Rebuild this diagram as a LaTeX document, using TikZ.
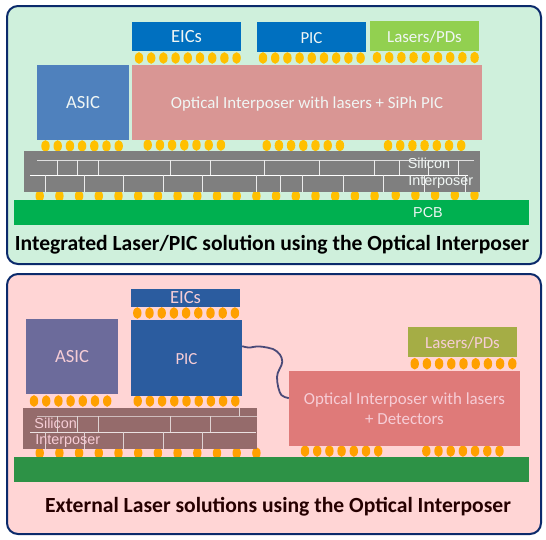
\documentclass[tikz,border=0pt]{standalone}
\usepackage{fontspec}
\setmainfont{Carlito}
\newfontfamily\labelfont{Liberation Sans}
\definecolor{panelgreen}{HTML}{CFF0DC}
\definecolor{panelpink}{HTML}{FFD5D5}
\definecolor{navy}{HTML}{0B2A6B}
\definecolor{bluea}{HTML}{0070C0}
\definecolor{blueb}{HTML}{2B5C9F}
\definecolor{asica}{HTML}{4F81BD}
\definecolor{asicb}{HTML}{6C6B9B}
\definecolor{lasera}{HTML}{92D050}
\definecolor{laserb}{HTML}{A5AD45}
\definecolor{opta}{HTML}{D99694}
\definecolor{optb}{HTML}{DF7A79}
\definecolor{sia}{HTML}{7F7F7F}
\definecolor{sib}{HTML}{956B6B}
\definecolor{pcba}{HTML}{00B050}
\definecolor{pcbb}{HTML}{2D9246}
\definecolor{bumpa}{HTML}{FFC000}
\definecolor{bumpb}{HTML}{FFA000}
\definecolor{fibre}{HTML}{4A4A78}
\definecolor{inka}{HTML}{F0F6F4}
\definecolor{inkb}{HTML}{F6CDD6}
\tikzset{
  panel/.style={draw=navy,line width=2pt,rounded corners=11pt},
  chip/.style={inner sep=0pt,text height=14.5pt,text depth=2pt,font=\fontsize{16.9}{20.8}\selectfont},
  big/.style={font=\fontsize{18.6}{22}\selectfont},
  chipa/.style={chip,text=inka},
  chipb/.style={chip,text=inkb,align=center},
  title/.style={inner sep=0pt,font=\fontsize{21.6}{26}\selectfont\bfseries},
  small/.style={inner sep=0pt,font=\labelfont\fontsize{14.4}{17}\selectfont},
  brick/.style={line width=0.8pt}
}
\begin{document}
\begin{tikzpicture}[x=1pt,y=-1pt]
\useasboundingbox (0,0) rectangle (546,539);
\draw[panel,fill=panelgreen] (7,6) rectangle (541,264);
\draw[panel,fill=panelpink] (7,274) rectangle (541,534);
\foreach \i in {0,...,8} {\fill[bumpa] (139+12.2*\i,58) ellipse (4.2pt and 5.8pt); \fill[bumpa] (263+12.2*\i,58) ellipse (4.2pt and 5.8pt); \fill[bumpa] (377+12.2*\i,57.5) ellipse (4.2pt and 5.8pt);}
\foreach \i in {0,...,6} {\fill[bumpa] (45.5+12.2*\i,146) ellipse (4.2pt and 5.8pt); \fill[bumpa] (147.7+12.2*\i,145) ellipse (4.2pt and 5.8pt); \fill[bumpa] (266.7+12.2*\i,145.5) ellipse (4.2pt and 5.8pt); \fill[bumpa] (388+12.2*\i,145.5) ellipse (4.2pt and 5.8pt);}
\foreach \i in {0,...,17} \fill[bumpa] (39.7+19.7*\i,196) ellipse (4.2pt and 5.8pt);
\foreach \i in {0,...,4} \fill[bumpa] (395.7+19.7*\i,195) ellipse (4.2pt and 5.8pt);
\node[chipa,big,fill=bluea,minimum width=109,minimum height=29] (eica) at (186.5,36.5) {EICs};
\node[chipa,fill=bluea,minimum width=109,minimum height=30] (pica) at (311.5,37) {PIC};
\node[chipa,fill=lasera,minimum width=109,minimum height=30] (lasersa) at (424.5,36) {Lasers/PDs};
\node[chipa,big,fill=asica,minimum width=92,minimum height=75] (asica) at (83,102.5) {ASIC};
\node[chipa,fill=opta,minimum width=350,minimum height=75] (opticala) at (307,102.5) {Optical Interposer with lasers + SiPh PIC};
\node[fill=sia,inner sep=0pt,minimum width=456,minimum height=41] (sia) at (252,171.5) {};
\draw[brick,white!75!sia] (37,160) -- (474,160);
\draw[brick,white] (30,175) -- (468,175);
\foreach \x in {57,77.7,98,170,210,264,319,374,399.7,428.7,458} \draw[brick,white!85!sia] (\x,160) -- (\x,175);
\foreach \x in {45,84.7,123.7,163,202,256.7,280,302,343,383.7,424,465.7} \draw[brick,white!85!sia] (\x,175) -- (\x,191.5);
\node[small,text=inka] (sitopa) at (429,163) {Silicon};
\node[small,text=inka] (sibota) at (440.7,182) {Interposer};
\node[small,text=inka,fill=pcba,minimum width=515,minimum height=25] (pcba) at (271.5,212.5) {};
\node[small,text=inka] (pcblabel) at (428,213) {PCB};
\node[title,text=black] (titlea) at (272,244.5) {Integrated Laser/PIC solution using the Optical Interposer};
\foreach \i in {0,...,8} {\fill[bumpb] (137.3+12.2*\i,313) ellipse (4.2pt and 5.8pt); \fill[bumpb] (137.7+12.2*\i,401) ellipse (4.2pt and 5.8pt); \fill[bumpb] (414.7+12.2*\i,363.7) ellipse (4.2pt and 5.8pt);}
\foreach \i in {0,...,6} {\fill[bumpb] (34+12.2*\i,401) ellipse (4.2pt and 5.8pt); \fill[bumpb] (305+12.2*\i,451) ellipse (4.2pt and 5.8pt); \fill[bumpb] (426.3+12.2*\i,451) ellipse (4.2pt and 5.8pt);}
\foreach \i in {0,...,11} \fill[bumpb] (39.7+19.7*\i,453) ellipse (4.2pt and 5.8pt);
\node[chipb,big,fill=blueb,minimum width=109,minimum height=18,text height=13.5pt] (eicb) at (185.5,298) {EICs};
\node[chipb,fill=blueb,minimum width=111,minimum height=76] (picb) at (186.5,358) {PIC};
\node[chipb,big,fill=asicb,minimum width=92,minimum height=75] (asicb) at (72,356.5) {ASIC};
\node[chipb,fill=laserb,minimum width=109,minimum height=30] (lasersb) at (462.5,342) {Lasers/PDs};
\node[chipb,fill=optb,minimum width=231,minimum height=75,text height=35pt] (opticalb) at (404.5,408.3) {Optical Interposer with lasers\\+ Detectors};
\draw[fibre,line width=1.8pt] (picb.12) .. controls (246,347.5) and (250,348) .. (253,347) .. controls (258,345.5) and (266,347) .. (273,349) .. controls (279,352) and (282,356) .. (282.3,361.7) .. controls (282,367) and (277,371) .. (277,377) .. controls (277,384) and (279,392) .. (281.3,395) .. controls (283,397) and (286,397.3) .. (opticalb.175);
\node[fill=sib,inner sep=0pt,minimum width=234,minimum height=41] (sib) at (140,428.5) {};
\draw[brick,white!55!sib] (37,416) -- (257,416);
\draw[brick,white!80!sib] (30,432) -- (256,432);
\draw[brick,white!70!sib] (239.3,408) -- (239.3,416);
\foreach \x in {57,77.7,98,170,210} \draw[brick,white!70!sib] (\x,416) -- (\x,432);
\foreach \x in {45,84.7,123.7,163,202} \draw[brick,white!70!sib] (\x,432) -- (\x,448.5);
\node[small,text=inkb] (sitopb) at (55.7,423) {Silicon};
\node[small,text=inkb] (sibotb) at (67.7,440.7) {Interposer};
\node[inner sep=0pt,fill=pcbb,minimum width=515,minimum height=25] (pcbb) at (271.5,469.5) {};
\node[title,text=black!85!red] (titleb) at (278,506.5) {External Laser solutions using the Optical Interposer};
\end{tikzpicture}
\end{document}
